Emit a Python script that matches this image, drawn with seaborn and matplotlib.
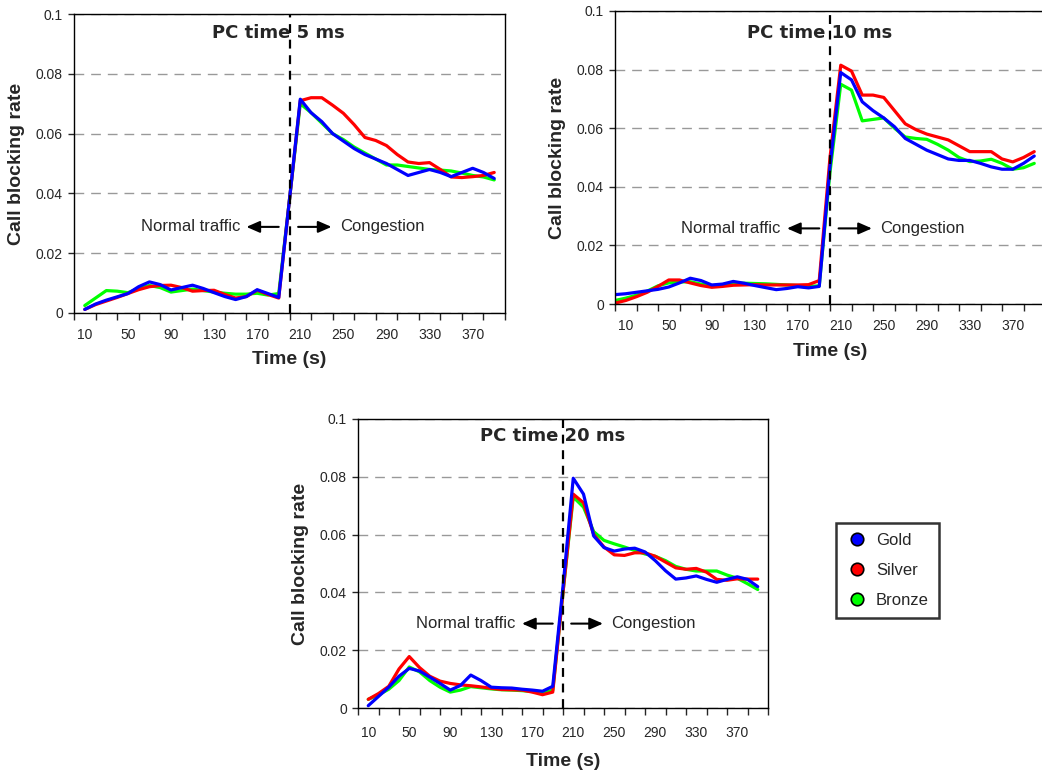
import numpy as np
import pandas as pd
import matplotlib.pyplot as plt
from matplotlib.lines import Line2D
import seaborn as sns

# time axis (s)
time = list(range(10, 400, 10))
time_10ms = [0] + time

# PC time 5 ms
gold_5 = [0.0012, 0.003, 0.0043, 0.0054, 0.0065, 0.0088, 0.0104, 0.0095, 0.0077, 0.0085,
          0.0093, 0.0082, 0.0068, 0.0055, 0.0045, 0.0055, 0.0078, 0.0065, 0.0052, 0.038,
          0.0715, 0.067, 0.064, 0.060, 0.0575, 0.055, 0.053, 0.0515, 0.050, 0.048,
          0.046, 0.047, 0.048, 0.047, 0.0456, 0.047, 0.0484, 0.047, 0.045]
silver_5 = [0.0012, 0.0028, 0.004, 0.0052, 0.0065, 0.0078, 0.0088, 0.0092, 0.0093, 0.0085,
            0.0073, 0.0075, 0.0076, 0.0062, 0.005, 0.0055, 0.0076, 0.0062, 0.005, 0.038,
            0.071, 0.072, 0.072, 0.0695, 0.0668, 0.063, 0.0587, 0.0577, 0.056, 0.053,
            0.0505, 0.050, 0.0503, 0.048, 0.0455, 0.0453, 0.0456, 0.046, 0.047]
bronze_5 = [0.0025, 0.005, 0.0075, 0.0073, 0.0068, 0.0082, 0.0092, 0.0085, 0.007, 0.0075,
            0.008, 0.0075, 0.007, 0.0066, 0.0063, 0.0063, 0.0066, 0.006, 0.0065, 0.038,
            0.070, 0.067, 0.0635, 0.060, 0.058, 0.0555, 0.0535, 0.0515, 0.0495, 0.0495,
            0.049, 0.0485, 0.048, 0.0478, 0.0475, 0.0468, 0.046, 0.0455, 0.0445]

# PC time 10 ms (starts at t=0)
gold_10 = [0.0032, 0.0035, 0.004, 0.0045, 0.005, 0.0058, 0.0072, 0.0088, 0.008, 0.0065,
           0.0068, 0.0077, 0.0071, 0.0063, 0.0056, 0.0049, 0.0053, 0.0059, 0.0055, 0.006,
           0.047, 0.079, 0.0765, 0.069, 0.066, 0.0635, 0.0605, 0.0565, 0.0545, 0.0525,
           0.051, 0.0495, 0.049, 0.049, 0.048, 0.0468, 0.046, 0.046, 0.048, 0.0505]
silver_10 = [0.0003, 0.0012, 0.0025, 0.004, 0.006, 0.0082, 0.0082, 0.0072, 0.0063, 0.0057,
             0.006, 0.0064, 0.0065, 0.0066, 0.0065, 0.0065, 0.0065, 0.0065, 0.0066, 0.008,
             0.05, 0.0815, 0.0795, 0.0713, 0.0713, 0.0705, 0.066, 0.0615, 0.0595, 0.058,
             0.057, 0.056, 0.054, 0.052, 0.052, 0.052, 0.0495, 0.0485, 0.050, 0.052]
bronze_10 = [0.0012, 0.002, 0.003, 0.0044, 0.0062, 0.0072, 0.0075, 0.0076, 0.0068, 0.0062,
             0.0066, 0.007, 0.0071, 0.007, 0.0069, 0.0067, 0.0065, 0.0063, 0.006, 0.0062,
             0.045, 0.075, 0.073, 0.0625, 0.063, 0.0635, 0.060, 0.057, 0.0565, 0.0562,
             0.0545, 0.0525, 0.050, 0.0486, 0.0488, 0.0494, 0.048, 0.046, 0.0465, 0.048]

# PC time 20 ms
gold_20 = [0.0008, 0.004, 0.0072, 0.011, 0.0137, 0.0128, 0.0107, 0.0085, 0.0062, 0.0078,
           0.0114, 0.0095, 0.0072, 0.007, 0.0069, 0.0065, 0.0062, 0.0058, 0.0075, 0.042,
           0.0795, 0.074, 0.0595, 0.0555, 0.0543, 0.055, 0.0553, 0.054, 0.051, 0.0475,
           0.0446, 0.045, 0.0457, 0.0445, 0.0435, 0.0445, 0.0454, 0.0445, 0.042]
silver_20 = [0.003, 0.005, 0.0075, 0.0135, 0.0178, 0.014, 0.011, 0.0093, 0.0085, 0.008,
             0.0077, 0.0073, 0.0068, 0.0064, 0.0063, 0.0062, 0.0055, 0.0046, 0.0055, 0.040,
             0.074, 0.071, 0.060, 0.0557, 0.053, 0.0528, 0.0537, 0.0537, 0.0525, 0.0505,
             0.0485, 0.048, 0.0483, 0.047, 0.0445, 0.0442, 0.0447, 0.0446, 0.0446]
bronze_20 = [0.003, 0.0045, 0.0065, 0.0095, 0.0142, 0.0125, 0.0095, 0.0072, 0.0055, 0.0062,
             0.0074, 0.007, 0.0066, 0.0063, 0.0062, 0.006, 0.0057, 0.0052, 0.0062, 0.040,
             0.073, 0.0695, 0.061, 0.058, 0.0568, 0.0557, 0.0545, 0.0533, 0.0525, 0.051,
             0.049, 0.048, 0.0474, 0.0474, 0.0474, 0.046, 0.0449, 0.043, 0.041]

classes = ["Gold", "Silver", "Bronze"]
colors = {"Gold": "#0000FF", "Silver": "#FF0000", "Bronze": "#00FF00"}
yticks = [0, 0.02, 0.04, 0.06, 0.08, 0.1]
ytick_labels = ["0", "0.02", "0.04", "0.06", "0.08", "0.1"]
xtick_labels = list(range(10, 380, 40))


def make_df(t, gold, silver, bronze):
    parts = []
    for name, vals in zip(classes, [gold, silver, bronze]):
        parts.append(pd.DataFrame({"time": t, "rate": vals, "class": name}))
    return pd.concat(parts, ignore_index=True)


sns.set_style("white")
plt.rcParams["font.family"] = ["Liberation Sans", "DejaVu Sans"]

fig = plt.figure(figsize=(10.42, 7.71), dpi=100)
W, H = 1042, 771
# axes boxes in pixels: left, top, right, bottom
boxes = [(74, 14, 505, 313), (615, 11, 1045, 304), (358, 419, 768, 708)]
# title, data, title y, arrow y, tick pad, xlabel pad
panels = [
    ("PC time 5 ms", make_df(time, gold_5, silver_5, bronze_5), 0.0936, 0.0288, 11, 6),
    ("PC time 10 ms", make_df(time_10ms, gold_10, silver_10, bronze_10), 0.0925, 0.0258, 11, 7),
    ("PC time 20 ms", make_df(time, gold_20, silver_20, bronze_20), 0.0940, 0.0292, 13, 9),
]

for (l, t, r, b), (title, df, ty, ay, tpad, lpad) in zip(boxes, panels):
    ax = fig.add_axes([l / W, (H - b) / H, (r - l) / W, (b - t) / H])
    ax.yaxis.grid(True, linestyle=(0, (7, 5)), color="#999999", lw=1)
    ax.set_axisbelow(True)
    sns.lineplot(data=df, x="time", y="rate", hue="class",
                 hue_order=["Bronze", "Silver", "Gold"], palette=colors,
                 lw=2.3, legend=False, ax=ax)
    ax.axvline(200, color="black", ls=(0, (4, 3)), lw=1.6)
    ax.set_xlim(0, 400)
    ax.set_ylim(0, 0.1)
    ax.set_xticks(xtick_labels)
    ax.set_xticklabels([str(v) for v in xtick_labels], fontsize=10)
    ax.set_xticks(range(0, 401, 20), minor=True)
    ax.tick_params(axis="x", which="major", length=0, pad=tpad)
    ax.tick_params(axis="x", which="minor", length=5, width=1, direction="out", bottom=True)
    ax.set_yticks(yticks)
    ax.set_yticklabels(ytick_labels, fontsize=10)
    ax.tick_params(axis="y", length=4, width=1, direction="out", left=True, pad=4)
    for s in ax.spines.values():
        s.set_color("black")
        s.set_linewidth(1)
    ax.set_xlabel("Time (s)", fontsize=14, fontweight="bold", labelpad=lpad)
    ax.set_ylabel("Call blocking rate", fontsize=14, fontweight="bold", labelpad=8)
    ax.text(190, ty, title, fontsize=13, fontweight="bold", family="DejaVu Sans",
            ha="center", va="center")
    ax.text(154, ay, "Normal traffic", fontsize=12, ha="right", va="center")
    ax.annotate("", xy=(160, ay), xytext=(190, ay),
                arrowprops=dict(arrowstyle="-|>,head_length=0.8,head_width=0.35",
                                color="black", lw=1.5, shrinkA=0, shrinkB=0))
    ax.annotate("", xy=(239, ay), xytext=(208, ay),
                arrowprops=dict(arrowstyle="-|>,head_length=0.8,head_width=0.35",
                                color="black", lw=1.5, shrinkA=0, shrinkB=0))
    ax.text(247, ay, "Congestion", fontsize=12, ha="left", va="center")

handles = [Line2D([], [], marker="o", ls="none", markersize=9,
                  markerfacecolor=colors[c], markeredgecolor="black", mew=1.2)
           for c in classes]
leg = fig.legend(handles, classes, loc="upper left",
                 bbox_to_anchor=(836 / W, (H - 523) / H), fontsize=12,
                 frameon=True, fancybox=False, edgecolor="black",
                 borderpad=0.6, labelspacing=0.9, handlelength=1.3,
                 handletextpad=0.5, borderaxespad=0)
leg.get_frame().set_linewidth(1.8)

fig.savefig("out.png", dpi=100)
